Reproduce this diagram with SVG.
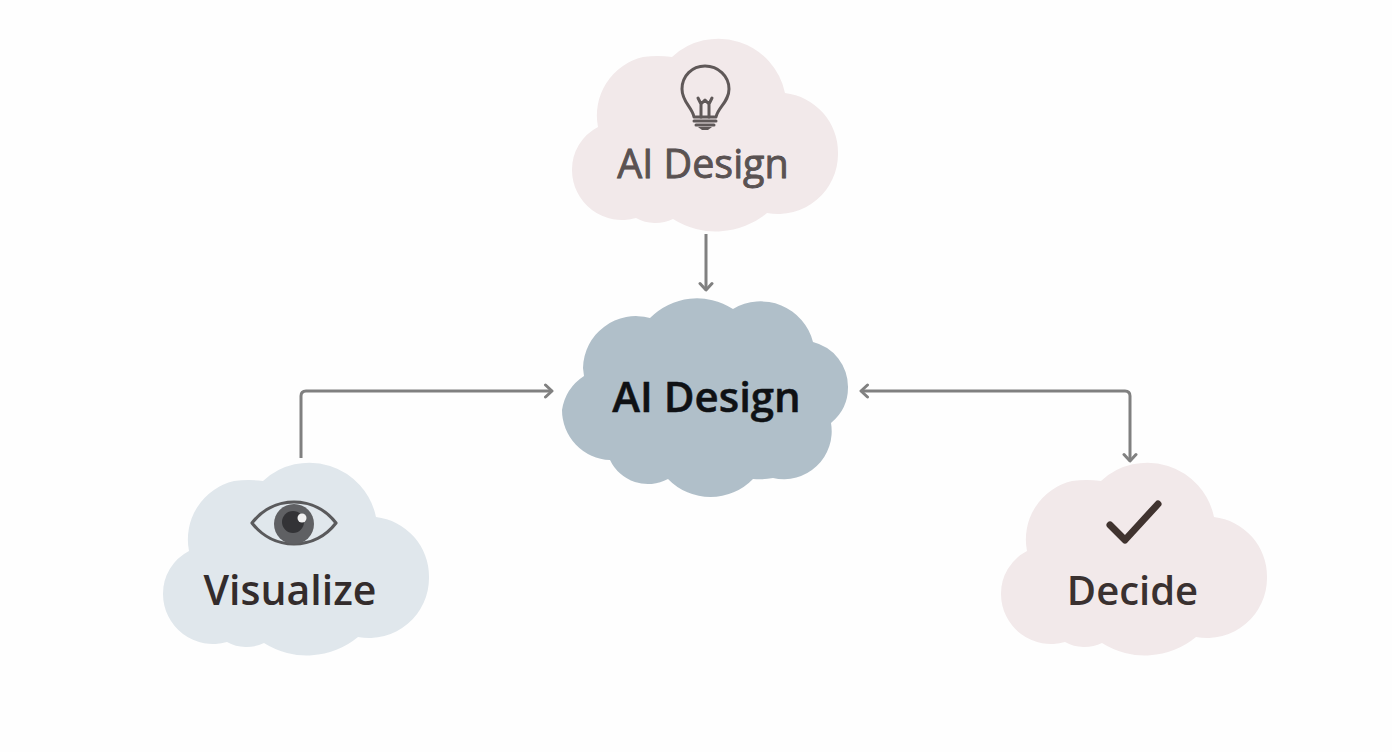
<svg xmlns="http://www.w3.org/2000/svg" width="1392" height="752" viewBox="0 0 1392 752">
<style>
.t{font-family:"Open Sans","Noto Sans","Liberation Sans",sans-serif;text-anchor:middle;paint-order:stroke}
.c{fill:none;stroke:#808080;stroke-width:3;stroke-linejoin:round}
.ar{fill:none;stroke:#808080;stroke-width:3;stroke-linecap:round;stroke-linejoin:round}
</style>
<defs>
<path id="cl" d="M672 57A68 68 0 0 1 785 93A60 60 0 0 1 838 153A60 60 0 0 1 767 213A80 80 0 0 1 673 219A40 40 0 0 1 636 218A50 50 0 0 1 572 170A48 48 0 0 1 598 127A60 60 0 0 1 643 57Q658 55 672 57Z"/>
<marker id="ah" viewBox="0 0 16 16" refX="13" refY="8" markerWidth="16" markerHeight="16" markerUnits="userSpaceOnUse" orient="auto-start-reverse"><path class="ar" d="M6.500 2L13 8L6.500 14"/></marker>
</defs>
<rect width="1392" height="752" fill="#fefefe"/>
<g id="connectors">
<path class="c" d="M706 234V290" marker-end="url(#ah)"/>
<path class="c" d="M301 458V396Q301 391 306 391H552" marker-end="url(#ah)"/>
<path class="c" d="M861 391H1125Q1130 391 1130 396V461" marker-start="url(#ah)" marker-end="url(#ah)"/>
</g>
<g id="node-top">
<use href="#cl" fill="#f2e9ea"/>
<g fill="none" stroke="#5f5858" stroke-width="3" stroke-linecap="round" stroke-linejoin="round">
<path d="M694 117C692 107 682 102 682 89C682 76 692 66 705 66C718 66 729 76 729 89C729 102 718 107 716 117Z"/>
<path d="M701 117V104L698 98M709 117V104L712 98M701 104L705 100L709 104"/>
<path d="M694 121H716M696 125H714"/>
</g>
<path d="M698 127H712L708 130H702Z" fill="#5f5858"/>
<text class="t" x="703" y="178" font-size="39.500" font-weight="500" fill="#5a5252" stroke="#4a4343" stroke-width="0.8">AI Design</text>
</g>
<g id="node-center">
<path fill="#b0bfc9" d="M650 318A66 66 0 0 1 733 309A54 54 0 0 1 813 342A46 46 0 0 1 848 387A46 46 0 0 1 831 423A48 48 0 0 1 773 478Q763 480 753 479A59 59 0 0 1 668 479A42 42 0 0 1 610 460A50 50 0 0 1 562 410A50 50 0 0 1 584 376L583 368A53 53 0 0 1 650 318Z"/>
<text class="t" x="706.500" y="412" font-size="42" font-weight="600" fill="#0f1114" stroke="#0f1114" stroke-width="0.5">AI Design</text>
</g>
<g id="node-visualize">
<use href="#cl" transform="translate(-409 424)" fill="#e0e7ec"/>
<path d="M252 523C262 510 277 502 294 502C311 502 326 510 336 523C326 536 311 544 294 544C277 544 262 536 252 523Z" fill="none" stroke="#5a5a5c" stroke-width="3.200" stroke-linejoin="round"/>
<circle cx="294" cy="524" r="20" fill="#5f6063"/>
<circle cx="293" cy="522" r="11" fill="#333336"/>
<circle cx="302" cy="518" r="4.500" fill="#f1f1f1"/>
<text class="t" x="290" y="605" font-size="41" font-weight="600" fill="#332c2c">Visualize</text>
</g>
<g id="node-decide">
<use href="#cl" transform="translate(429 424)" fill="#f2e9ea"/>
<path d="M1110 525L1125 540L1158 504" fill="none" stroke="#40332f" stroke-width="7" stroke-linecap="round" stroke-linejoin="round"/>
<text class="t" x="1132.500" y="605" font-size="40" font-weight="600" fill="#3a3130">Decide</text>
</g>
</svg>
